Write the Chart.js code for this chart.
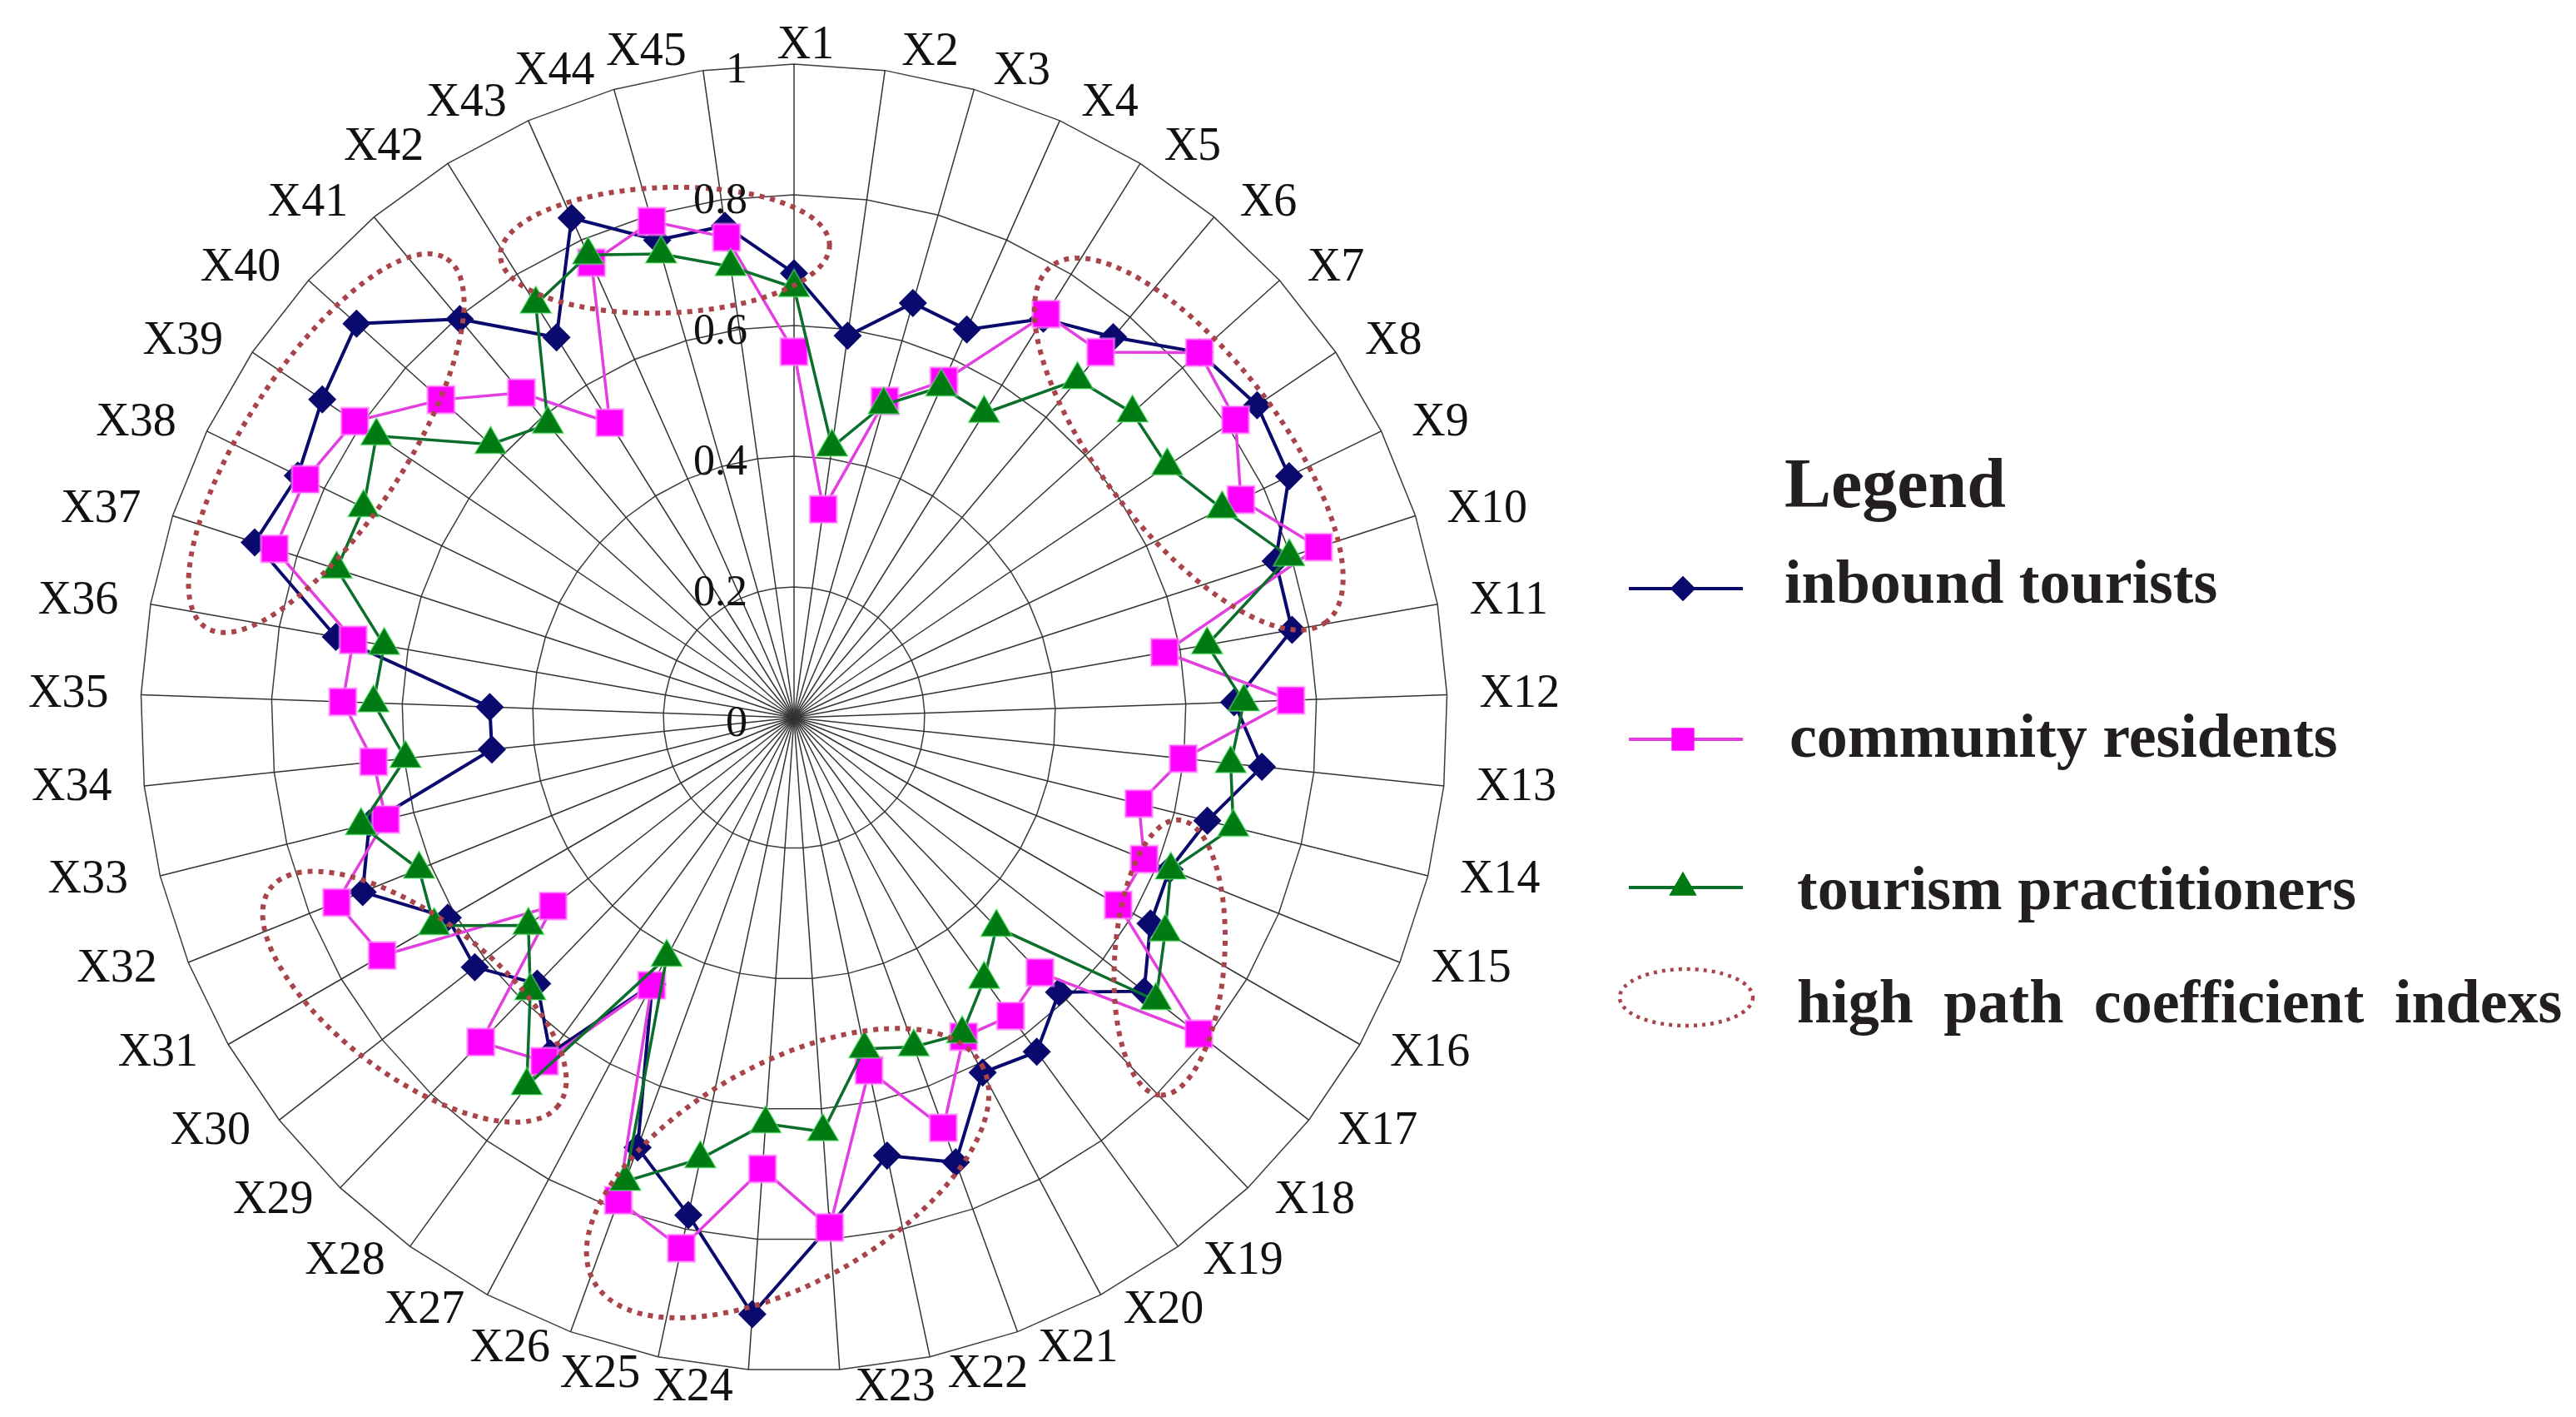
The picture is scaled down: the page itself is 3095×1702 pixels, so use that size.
<!DOCTYPE html>
<html>
<head>
<meta charset="utf-8">
<script src="https://cdn.jsdelivr.net/npm/chart.js@4.4.1/dist/chart.umd.min.js"></script>
<style>
  html, body { margin: 0; padding: 0; background: #fff; overflow: hidden; }
  #wrap { position: relative; width: 3095px; height: 1702px; }
</style>
</head>
<body>
<div id="wrap"><canvas id="chart"></canvas></div>
<script>
/* ================= DATA ================= */
const indexLabels = Array.from({ length: 45 }, (_, i) => 'X' + (i + 1));

const inboundTourists = [
  0.68, 0.59, 0.66, 0.65, 0.72, 0.76, 0.835, 0.855, 0.843, 0.775,
  0.774, 0.674, 0.72, 0.652, 0.62, 0.63, 0.68, 0.584, 0.632, 0.615,
  0.724, 0.685, 0.78, 0.915, 0.778, 0.70, 0.462, 0.635, 0.566, 0.62,
  0.612, 0.712, 0.67, 0.465, 0.466, 0.712, 0.868, 0.845, 0.871, 0.901,
  0.796, 0.686, 0.837, 0.76, 0.76
];

const communityResidents = [
  0.56, 0.322, 0.504, 0.564, 0.728, 0.73, 0.835, 0.815, 0.761, 0.844,
  0.576, 0.761, 0.599, 0.544, 0.578, 0.573, 0.786, 0.542, 0.564, 0.553,
  0.668, 0.552, 0.782, 0.692, 0.83, 0.786, 0.464, 0.65, 0.69, 0.468,
  0.728, 0.755, 0.644, 0.647, 0.691, 0.685, 0.836, 0.832, 0.811, 0.727,
  0.649, 0.532, 0.762, 0.79, 0.742
];

const tourismPractitioners = [
  0.658, 0.418, 0.498, 0.554, 0.549, 0.675, 0.697, 0.689, 0.729, 0.797,
  0.642, 0.689, 0.672, 0.693, 0.622, 0.656, 0.703, 0.446, 0.495, 0.548,
  0.536, 0.518, 0.635, 0.623, 0.69, 0.755, 0.415, 0.696, 0.581, 0.516,
  0.636, 0.619, 0.683, 0.598, 0.644, 0.637, 0.736, 0.733, 0.771, 0.625,
  0.586, 0.746, 0.775, 0.738, 0.697
];

const tickValues = [0, 0.2, 0.4, 0.6, 0.8, 1];
const tickLabels = ['0', '0.2', '0.4', '0.6', '0.8', '1'];

/* ================= HIGH PATH GROUPS (dotted rings) ================= */
// at = axis position (0 = X1), value = radial value of the centre,
// a / b = half axes as share of the radius, rot = tilt in degrees
const highlightGroups = [
  { at: 43.07, value: 0.742, a: 0.252, b: 0.096, rot: -2 },
  { at: 37.55, value: 0.83,  a: 0.337, b: 0.122, rot: -56.8 },
  { at: 6.91,  value: 0.735, a: 0.344, b: 0.136, rot: 52.3 },
  { at: 15.32, value: 0.682, a: 0.211, b: 0.084, rot: 94 },
  { at: 22.6,  value: 0.697, a: 0.34,  b: 0.168, rot: -29.2 },
  { at: 29.21, value: 0.721, a: 0.276, b: 0.121, rot: 36.9 }
];

const RING_COLOR = '#a8444a';
const SERIF = '"Liberation Serif", "Times New Roman", serif';

/* ================= PLUGINS ================= */
function dottedRing(ctx, x, y, rx, ry, rot, width, dash) {
  ctx.save();
  ctx.strokeStyle = RING_COLOR;
  ctx.lineWidth = width;
  ctx.setLineDash(dash);
  ctx.beginPath();
  ctx.ellipse(x, y, rx, ry, rot * Math.PI / 180, 0, Math.PI * 2);
  ctx.stroke();
  ctx.restore();
}

const ringsPlugin = {
  id: 'rings',
  afterDatasetsDraw(chart) {
    const s = chart.scales.r;
    highlightGroups.forEach(g => {
      const p = s.getPointPositionForValue(g.at, g.value);
      dottedRing(chart.ctx, p.x, p.y, g.a * s.drawingArea, g.b * s.drawingArea, g.rot, 6, [6, 7]);
    });
  }
};

const axisTextPlugin = {
  id: 'axisText',
  afterDraw(chart) {
    const s = chart.scales.r;
    const ctx = chart.ctx;
    const n = chart.data.labels.length;
    ctx.save();
    ctx.fillStyle = '#111';

    // X1..X45 round the outside
    ctx.font = '56px ' + SERIF;
    ctx.textBaseline = 'middle';
    chart.data.labels.forEach((lab, i) => {
      const p = s.getPointPosition(i, s.drawingArea);
      const deg = i * 360 / n;
      const sin = Math.sin(deg * Math.PI / 180);
      const cos = Math.cos(deg * Math.PI / 180);
      const gap = 17 + 22 * Math.abs(sin);
      let x = p.x, align = 'center';
      if (deg > 0.5 && deg < 179.5) { align = 'left'; x += gap; }
      else if (deg > 180.5 && deg < 359.5) { align = 'right'; x -= gap; }
      else { x += 14; }
      ctx.textAlign = align;
      ctx.fillText(lab, x, p.y - 22 * cos);
    });

    // value ticks, left of the X1 spoke
    ctx.font = '52px ' + SERIF;
    ctx.textAlign = 'right';
    s.ticks.forEach((t, i) => {
      const d = s.getDistanceFromCenterForValue(t.value);
      ctx.fillText(tickLabels[i], s.xCenter - 56, s.yCenter - d + 8);
    });
    ctx.restore();
  }
};

const legendPlugin = {
  id: 'sideLegend',
  afterDraw(chart) {
    const ctx = chart.ctx;
    ctx.save();
    ctx.fillStyle = '#231f20';
    ctx.textAlign = 'left';
    ctx.textBaseline = 'alphabetic';
    ctx.font = 'bold 84px ' + SERIF;
    ctx.fillText('Legend', 2144, 609);

    const rows = [
      { y: 707, tx: 2144, ty: 724 },
      { y: 888, tx: 2150, ty: 909 },
      { y: 1066, tx: 2159, ty: 1092 }
    ];
    ctx.font = 'bold 74px ' + SERIF;
    chart.data.datasets.forEach((ds, i) => {
      const r = rows[i];
      ctx.strokeStyle = ds.borderColor;
      ctx.lineWidth = 4;
      ctx.beginPath();
      ctx.moveTo(1957, r.y);
      ctx.lineTo(2094, r.y);
      ctx.stroke();
      ctx.fillStyle = ds.pointBackgroundColor;
      Chart.helpers.drawPoint(ctx, {
        pointStyle: ds.pointStyle,
        radius: ds.legendRadius,
        rotation: 0,
        borderWidth: 0
      }, 2022, r.y);
      ctx.fill();
      ctx.fillStyle = '#231f20';
      ctx.fillText(ds.label, r.tx, r.ty);
    });

    dottedRing(ctx, 2026, 1198, 80, 34, 0, 4.5, [4, 6]);
    ctx.fillStyle = '#231f20';
    if ('wordSpacing' in ctx) ctx.wordSpacing = '18px';
    ctx.fillText('high path coefficient indexs', 2159, 1228);
    ctx.restore();
  }
};

/* ================= CHART ================= */
const canvas = document.getElementById('chart');
new Chart(canvas.getContext('2d'), {
  type: 'radar',
  data: {
    labels: indexLabels,
    datasets: [
      {
        label: 'inbound tourists',
        data: inboundTourists,
        borderColor: '#0a0a6e',
        borderWidth: 4,
        pointStyle: 'rectRot',
        pointRadius: 17,
        legendRadius: 15,
        pointBackgroundColor: '#0a0a6e',
        pointBorderColor: '#0a0a6e',
        pointBorderWidth: 0,
        fill: false,
        order: 3
      },
      {
        label: 'community residents',
        data: communityResidents,
        borderColor: '#e23ee0',
        borderWidth: 3.5,
        pointStyle: 'rect',
        pointRadius: 23,
        legendRadius: 19,
        pointBackgroundColor: '#ff00ff',
        pointBorderColor: 'rgba(255,150,255,0.55)',
        pointBorderWidth: 3,
        fill: false,
        order: 2
      },
      {
        label: 'tourism practitioners',
        data: tourismPractitioners,
        borderColor: '#0b6e2b',
        borderWidth: 3.5,
        pointStyle: 'triangle',
        pointRadius: 22,
        legendRadius: 19,
        pointBackgroundColor: '#007a12',
        pointBorderColor: 'rgba(120,255,140,0.45)',
        pointBorderWidth: 2,
        fill: false,
        order: 1
      }
    ]
  },
  options: {
    responsive: true,
    maintainAspectRatio: false,
    devicePixelRatio: 1,
    animation: false,
    layout: { padding: { left: 169, right: 1356, top: 77, bottom: 55 } },
    elements: { line: { tension: 0 } },
    plugins: { legend: { display: false }, tooltip: { enabled: false } },
    scales: {
      r: {
        min: 0,
        max: 1,
        afterBuildTicks: s => { s.ticks = tickValues.map(v => ({ value: v })); },
        ticks: { display: false },
        pointLabels: { display: false },
        grid: { color: '#3c3c3c', lineWidth: 1.5 },
        angleLines: { color: '#333333', lineWidth: 1.5 }
      }
    }
  },
  plugins: [ringsPlugin, axisTextPlugin, legendPlugin]
});
</script>
</body>
</html>
